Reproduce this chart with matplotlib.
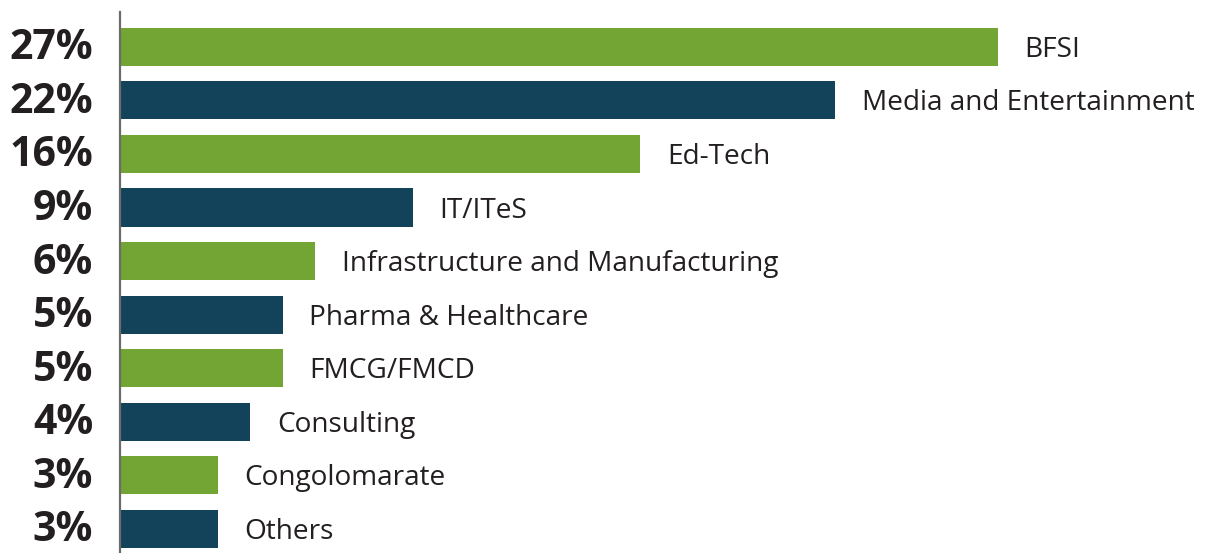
import matplotlib
matplotlib.use("Agg")
import matplotlib.pyplot as plt
from matplotlib.transforms import blended_transform_factory, offset_copy

# share by sector, top to bottom
sectors = ["BFSI", "Media and Entertainment", "Ed-Tech", "IT/ITeS",
           "Infrastructure and Manufacturing", "Pharma & Healthcare",
           "FMCG/FMCD", "Consulting", "Congolomarate", "Others"]
shares = [27, 22, 16, 9, 6, 5, 5, 4, 3, 3]

GREEN = "#72A534"
TEAL = "#12435A"

plt.rcParams["font.family"] = ["Open Sans", "DejaVu Sans"]

fig = plt.figure(figsize=(12.14, 5.53), dpi=100)
ax = fig.add_axes([120 / 1214, 0, 1072.5 / 1214, 541 / 553])

ypos = list(range(len(sectors)))
colors = [GREEN if i % 2 == 0 else TEAL for i in ypos]
ax.barh(ypos, shares, height=0.71, color=colors, zorder=2)

ax.set_xlim(0, 33)
ax.set_ylim(9.45, -0.65)

for s in ["top", "right", "bottom"]:
    ax.spines[s].set_visible(False)
ax.spines["left"].set_color("#6b6b6b")
ax.spines["left"].set_linewidth(1.6)
ax.set_xticks([])
ax.set_yticks([])

# category labels to the right of each bar
lab_trans = offset_copy(ax.transData, fig=fig, x=0, y=-3, units="dots")
for y, v, name in zip(ypos, shares, sectors):
    ax.text(v + 0.83, y, name, transform=lab_trans, ha="left", va="center",
            fontsize=20.2, color="#231f20")

# percentage labels left of the axis
trans = offset_copy(blended_transform_factory(ax.transAxes, ax.transData),
                    fig=fig, x=-27, y=-2, units="dots")
for y, v in zip(ypos, shares):
    ax.text(0, y, f"{v}%", transform=trans, ha="right", va="center",
            fontsize=29.5, fontweight="bold", color="#231f20")

fig.savefig("out.png", dpi=100)
